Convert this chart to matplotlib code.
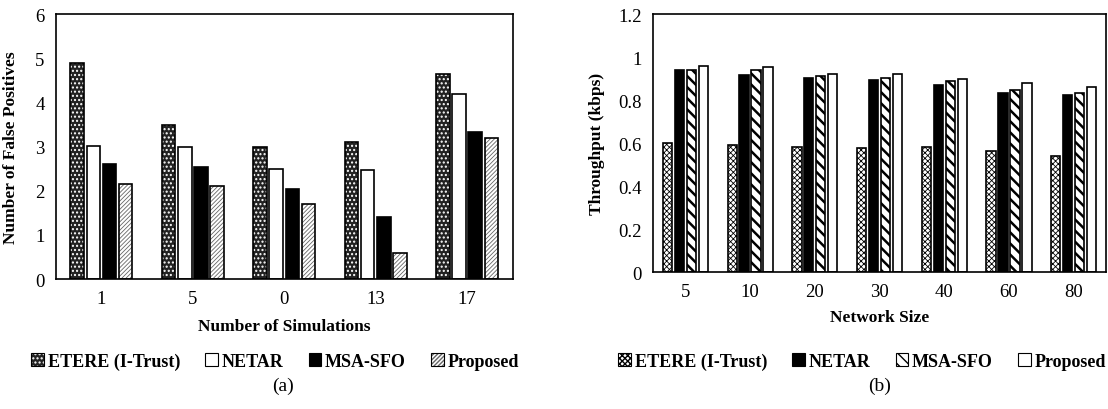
import numpy as np
import matplotlib
matplotlib.use("Agg")
import matplotlib.pyplot as plt
from matplotlib.patches import Patch
from matplotlib.colors import to_rgba

plt.rcParams['font.family'] = ['Liberation Serif', 'DejaVu Serif']

series = ['ETERE (I-Trust)', 'NETAR', 'MSA-SFO', 'Proposed']

# (a) false positives
sim_labels = ['1', '5', '0', '13', '17']
fp_etere = [4.9, 3.5, 3.0, 3.1, 4.65]
fp_netar = [3.02, 3.0, 2.5, 2.48, 4.2]
fp_msa = [2.6, 2.53, 2.05, 1.4, 3.33]
fp_prop = [2.15, 2.1, 1.7, 0.6, 3.2]

# (b) throughput
net_labels = ['5', '10', '20', '30', '40', '60', '80']
tp_etere = [0.60, 0.59, 0.58, 0.575, 0.58, 0.565, 0.54]
tp_netar = [0.94, 0.915, 0.905, 0.895, 0.87, 0.835, 0.825]
tp_msa = [0.94, 0.94, 0.912, 0.905, 0.89, 0.845, 0.835]
tp_prop = [0.96, 0.955, 0.92, 0.92, 0.90, 0.88, 0.86]

# face, hatch, hatch colour, hatch linewidth
styles_a = [('#222222', '....', 'white', 1.0), ('white', None, 'black', 0.8),
            ('black', None, 'black', 0.8), ('white', '////////', '#666666', 0.6)]
styles_b = [('white', 'xxxxxx', 'black', 0.6), ('black', None, 'black', 0.8),
            ('white', '\\\\\\', 'black', 1.8), ('white', None, 'black', 0.8)]


def style_patch(p, st):
    p.set_facecolor(st[0])
    p.set_edgecolor('black')
    if st[1]:
        p.set_hatch(st[1])
        p._hatch_color = to_rgba(st[2])
        if hasattr(p, 'set_hatch_linewidth'):
            p.set_hatch_linewidth(st[3])
        else:
            p._hatch_linewidth = st[3]
    p.set_linewidth(1.2)


def draw_group(ax, xs, vals, w, st):
    bars = ax.bar(xs, vals, w)
    for p in bars:
        style_patch(p, st)


fig = plt.figure(figsize=(11.08, 4.10), dpi=100)

# ---- (a)
ax1 = fig.add_axes([0.0503, 0.317, 0.4125, 0.646])
x = np.arange(len(sim_labels))
w, step = 0.148, 0.177
off = np.array([-1.5, -0.5, 0.5, 1.5]) * step
for vals, o, st in zip([fp_etere, fp_netar, fp_msa, fp_prop], off, styles_a):
    draw_group(ax1, x + o, vals, w, st)
ax1.set_xlim(-0.5, len(sim_labels) - 0.5)
ax1.set_ylim(0, 6)
ax1.set_xticks(x, sim_labels)
ax1.set_yticks(range(0, 7))
ax1.set_xlabel('Number of Simulations', fontsize=12.5, fontweight='bold', labelpad=8)
ax1.set_ylabel('Number of False Positives', fontsize=12.5, fontweight='bold', labelpad=12)

# ---- (b)
ax2 = fig.add_axes([0.5894, 0.334, 0.4088, 0.629])
x2 = np.arange(len(net_labels))
w2, step2 = 0.144, 0.185
off2 = np.array([-1.5, -0.5, 0.5, 1.5]) * step2
for vals, o, st in zip([tp_etere, tp_netar, tp_msa, tp_prop], off2, styles_b):
    draw_group(ax2, x2 + o, vals, w2, st)
ax2.set_xlim(-0.5, len(net_labels) - 0.5)
ax2.set_ylim(0, 1.2)
ax2.set_xticks(x2, net_labels)
ax2.set_yticks([0, 0.2, 0.4, 0.6, 0.8, 1, 1.2], ['0', '0.2', '0.4', '0.6', '0.8', '1', '1.2'])
ax2.set_xlabel('Network Size', fontsize=12.5, fontweight='bold', labelpad=6)
ax2.set_ylabel('Throughput (kbps)', fontsize=12.5, fontweight='bold', labelpad=10)

for ax in (ax1, ax2):
    ax.tick_params(length=0, labelsize=13.5, pad=8)
    for s in ax.spines.values():
        s.set_linewidth(1.2)

# legends
legprops = dict(loc='center', ncol=4, frameon=False, handlelength=0.7, handleheight=0.7,
                handletextpad=0.2, columnspacing=1.4, prop={'weight': 'bold', 'size': 13})
ha, hb = [], []
for st in styles_a:
    p = Patch()
    style_patch(p, st)
    p.set_linewidth(0.8)
    ha.append(p)
for st in styles_b:
    p = Patch()
    style_patch(p, st)
    p.set_linewidth(0.8)
    hb.append(p)
fig.legend(ha, series, bbox_to_anchor=(275 / 1108, 1 - 362 / 410), **legprops)
fig.legend(hb, series, bbox_to_anchor=(862 / 1108, 1 - 362 / 410), **legprops)

fig.text(283 / 1108, 1 - 386 / 410, '(a)', ha='center', va='center', fontsize=14)
fig.text(880 / 1108, 1 - 386 / 410, '(b)', ha='center', va='center', fontsize=14)

fig.savefig('out.png', dpi=100)
